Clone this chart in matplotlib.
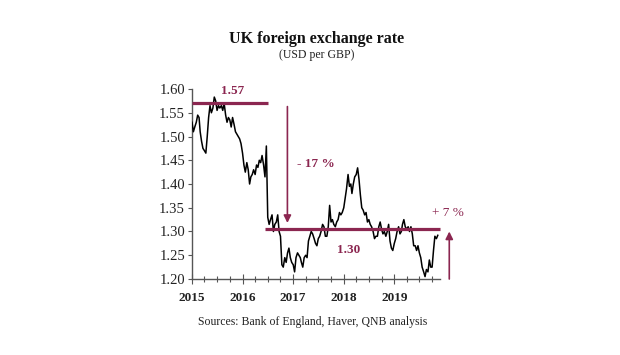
import matplotlib
matplotlib.use("Agg")
import matplotlib.pyplot as plt
import matplotlib.dates as mdates
import numpy as np
import pandas as pd

# ---- data (USD per GBP), three readings per month: days 1, 11, 21 ----
months = pd.date_range("2015-01-01", "2019-11-01", freq="MS")
rate = [
    # 2015
    1.530, 1.510, 1.520,  1.530, 1.545, 1.540,  1.510, 1.490, 1.475,
    1.470, 1.465, 1.500,  1.540, 1.565, 1.550,  1.560, 1.583, 1.575,
    1.555, 1.565, 1.560,  1.565, 1.555, 1.570,  1.545, 1.530, 1.540,
    1.535, 1.520, 1.540,  1.525, 1.510, 1.505,  1.500, 1.495, 1.485,
    # 2016
    1.465, 1.440, 1.425,  1.445, 1.430, 1.400,  1.415, 1.420, 1.430,
    1.420, 1.440, 1.435,  1.450, 1.445, 1.460,  1.440, 1.415, 1.480,
    1.330, 1.315, 1.325,  1.335, 1.300, 1.315,  1.320, 1.335, 1.300,
    1.290, 1.230, 1.225,  1.245, 1.235, 1.255,  1.265, 1.245, 1.235,
    # 2017
    1.230, 1.215, 1.245,  1.255, 1.250, 1.245,  1.235, 1.225, 1.245,
    1.250, 1.245, 1.280,  1.290, 1.300, 1.295,  1.285, 1.275, 1.270,
    1.285, 1.290, 1.300,  1.315, 1.310, 1.290,  1.290, 1.310, 1.355,
    1.320, 1.325, 1.315,  1.310, 1.320, 1.325,  1.340, 1.335, 1.340,
    # 2018
    1.350, 1.370, 1.390,  1.420, 1.395, 1.400,  1.380, 1.400, 1.415,
    1.420, 1.434, 1.410,  1.377, 1.350, 1.345,  1.335, 1.340, 1.320,
    1.325, 1.315, 1.310,  1.300, 1.285, 1.290,  1.290, 1.310, 1.320,
    1.305, 1.295, 1.300,  1.290, 1.300, 1.315,  1.280, 1.265, 1.260,
    # 2019
    1.275, 1.285, 1.300,  1.310, 1.295, 1.300,  1.315, 1.325, 1.310,
    1.305, 1.310, 1.300,  1.310, 1.295, 1.270,  1.270, 1.260, 1.270,
    1.255, 1.245, 1.225,  1.215, 1.205, 1.220,  1.215, 1.240, 1.225,
    1.225, 1.260, 1.290,  1.285, 1.292,
]
dates = []
for m in months:
    for d in (0, 10, 20):
        dates.append(m + pd.Timedelta(days=d))
dates = dates[:len(rate)]

level_high = 1.57
level_low = 1.305
high_span = ("2015-01-01", "2016-07-01")
low_span = ("2016-06-13", "2019-11-27")
drop_arrow = ("2016-11-20", 1.563, 1.318)
rise_arrow = ("2020-02-02", 1.20, 1.30)
year_ticks = ["2015", "2016", "2017", "2018", "2019"]
yticks = [1.20, 1.25, 1.30, 1.35, 1.40, 1.45, 1.50, 1.55, 1.60]

maroon = "#8B2650"
serif = ["Liberation Serif", "DejaVu Serif"]
plt.rcParams["font.family"] = serif

fig = plt.figure(figsize=(6.2, 3.55), dpi=100)
ax = fig.add_axes([192 / 620, 76 / 355, 248 / 620, 190 / 355])

ax.plot(pd.to_datetime(dates), rate, color="black", lw=1.1, zorder=3)

ax.hlines(level_high, pd.Timestamp(high_span[0]), pd.Timestamp(high_span[1]),
          color=maroon, lw=2.3, zorder=4)
ax.hlines(level_low, pd.Timestamp(low_span[0]), pd.Timestamp(low_span[1]),
          color=maroon, lw=2.3, zorder=4, clip_on=False)

for (d, y0, y1) in (drop_arrow, rise_arrow):
    ax.annotate("", xy=(pd.Timestamp(d), y1), xytext=(pd.Timestamp(d), y0),
                arrowprops=dict(arrowstyle="-|>", color=maroon, lw=1.2,
                                mutation_scale=11, shrinkA=0, shrinkB=0),
                annotation_clip=False)

ax.text(pd.Timestamp("2015-10-22"), 1.596, "1.57", color=maroon, fontsize=9.5,
        fontweight="bold", ha="center", va="center")
ax.text(pd.Timestamp("2017-06-10"), 1.442, "- 17 %", color=maroon, fontsize=9.5,
        fontweight="bold", ha="center", va="center")
ax.text(pd.Timestamp("2018-02-05"), 1.261, "1.30", color=maroon, fontsize=9.5,
        fontweight="bold", ha="center", va="center")
ax.text(pd.Timestamp("2020-01-25"), 1.339, "+ 7 %", color=maroon, fontsize=9.5,
        ha="center", va="center", clip_on=False)

ax.set_ylim(1.20, 1.60)
ax.set_xlim(pd.Timestamp("2015-01-01"), pd.Timestamp("2019-11-27"))
ax.set_yticks(yticks)
ax.set_yticklabels([f"{v:.2f}" for v in yticks])
ax.set_xticks([pd.Timestamp(y + "-01-01") for y in year_ticks])
ax.set_xticklabels(year_ticks)
ax.xaxis.set_minor_locator(mdates.MonthLocator(bymonth=[4, 7, 10]))

for s in ("top", "right"):
    ax.spines[s].set_visible(False)
for s in ("left", "bottom"):
    ax.spines[s].set_color("#555555")
    ax.spines[s].set_linewidth(1.0)

ax.tick_params(axis="y", direction="out", length=3, width=0.8, color="#555555",
               labelsize=10.5, pad=2)
ax.tick_params(axis="x", which="major", direction="inout", length=7, width=0.8,
               color="#555555", labelsize=9.5, pad=6)
ax.tick_params(axis="x", which="minor", direction="inout", length=4, width=0.8,
               color="#555555")
for lbl in ax.get_xticklabels() + ax.get_yticklabels():
    lbl.set_color("#222222")
for lbl in ax.get_xticklabels():
    lbl.set_fontweight("bold")

fig.text(0.51, 0.890, "UK foreign exchange rate", ha="center", va="center",
         fontsize=11.5, fontweight="bold", color="#111111")
fig.text(0.51, 0.845, "(USD per GBP)", ha="center", va="center",
         fontsize=8.5, color="#222222")
fig.text(0.505, 0.093, "Sources: Bank of England, Haver, QNB analysis",
         ha="center", va="center", fontsize=8.5, color="#222222")

fig.savefig("out.png", dpi=100, facecolor="white")
